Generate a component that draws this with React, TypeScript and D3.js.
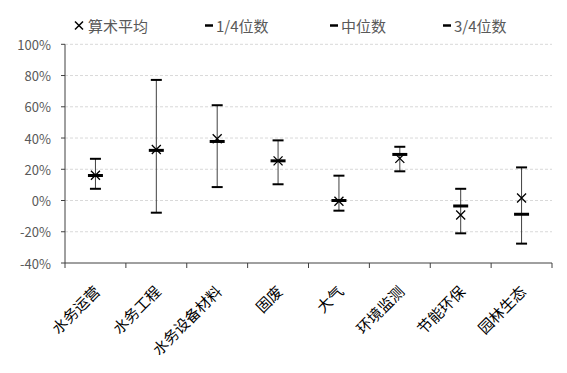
import * as d3 from 'd3';

const categories = ['水务运营', '水务工程', '水务设备材料', '固废', '大气', '环境监测', '节能环保', '园林生态'];
const q1 = [7.5, -7.8, 8.6, 10.4, -6.5, 18.7, -21, -27.6];
const median = [16, 32.1, 37.8, 25.4, 0, 29.5, -3.5, -8.8];
const q3 = [26.7, 77.2, 61, 38.5, 15.9, 34.4, 7.5, 21.2];
const mean = [16.2, 32.7, 39.5, 25.4, -0.5, 27, -9.3, 1.6];
const yTicks = [-40, -20, 0, 20, 40, 60, 80, 100];
const legendLabels = ['算术平均', '1/4位数', '中位数', '3/4位数'];

const W = 567, H = 373;
const left = 65, right = 552, top = 44.3, bottom = 263;
const cjk = '"Microsoft YaHei", "Noto Sans CJK SC", sans-serif';

export default function App() {
  const x = d3.scaleBand().domain(categories).range([left, right]);
  const y = d3.scaleLinear().domain([-40, 100]).range([bottom, top]);
  const cx = (c: string) => x(c)! + x.bandwidth() / 2;
  const legendX = [75, 205, 330, 443];

  return (
    <div style={{ position: 'absolute', left: 0, top: 0 }}>
      <svg width={W} height={H} style={{ display: 'block', background: '#fff' }}>
        {/* gridlines */}
        {yTicks.filter(t => t > -40).map(t => (
          <line key={t} x1={left} x2={right} y1={y(t)} y2={y(t)} stroke="#d9d9d9" strokeWidth={1} strokeDasharray="3,2" />
        ))}
        {/* y axis */}
        <line x1={left} x2={left} y1={top} y2={bottom} stroke="#404040" strokeWidth={1} />
        {yTicks.map(t => (
          <g key={t}>
            <line x1={left - 4} x2={left} y1={y(t)} y2={y(t)} stroke="#404040" />
            <text x={51} y={y(t)} textAnchor="end" dominantBaseline="central" fontSize={13} fill="#595959" fontFamily={cjk}>{t}%</text>
          </g>
        ))}
        {/* x axis */}
        <line x1={left} x2={right} y1={bottom} y2={bottom} stroke="#404040" strokeWidth={1} />
        {d3.range(categories.length + 1).map(i => {
          const xx = left + i * x.bandwidth();
          return <line key={i} x1={xx} x2={xx} y1={bottom} y2={bottom + 5} stroke="#404040" />;
        })}
        {categories.map(c => (
          <text key={c} transform={`translate(${cx(c) + 1},${288}) rotate(-45)`} textAnchor="end" dominantBaseline="central" fontSize={15} fill="#000" fontFamily={cjk}>{c}</text>
        ))}
        {/* marks */}
        {categories.map((c, i) => {
          const px = cx(c);
          const m = y(mean[i]);
          return (
            <g key={c}>
              <line x1={px} x2={px} y1={y(q3[i])} y2={y(q1[i])} stroke="#404040" strokeWidth={1} />
              <line x1={px - 5.5} x2={px + 5.5} y1={y(q3[i])} y2={y(q3[i])} stroke="#000" strokeWidth={2} />
              <line x1={px - 5.5} x2={px + 5.5} y1={y(q1[i])} y2={y(q1[i])} stroke="#000" strokeWidth={2} />
              <line x1={px - 7.5} x2={px + 7.5} y1={y(median[i])} y2={y(median[i])} stroke="#000" strokeWidth={3} />
              <path d={`M${px - 4.5},${m - 4.5}L${px + 4.5},${m + 4.5}M${px - 4.5},${m + 4.5}L${px + 4.5},${m - 4.5}`} stroke="#000" strokeWidth={1.3} fill="none" />
            </g>
          );
        })}
        {/* legend */}
        {legendLabels.map((l, i) => (
          <g key={l}>
            {i === 0 ? (
              <path d={`M${legendX[i]},${21.5}L${legendX[i] + 8},${29.5}M${legendX[i]},${29.5}L${legendX[i] + 8},${21.5}`} stroke="#000" strokeWidth={1.5} fill="none" />
            ) : (
              <line x1={legendX[i]} x2={legendX[i] + 8} y1={25.5} y2={25.5} stroke="#000" strokeWidth={2.5} />
            )}
            <text x={legendX[i] + (i === 0 ? 13 : 11)} y={25.5} dominantBaseline="central" fontSize={15} fill="#595959" fontFamily={cjk}>{l}</text>
          </g>
        ))}
      </svg>
    </div>
  );
}
